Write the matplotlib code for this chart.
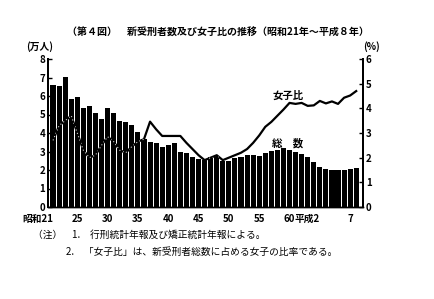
import matplotlib
matplotlib.use("Agg")
import matplotlib.pyplot as plt
from matplotlib.path import Path
import numpy as np

plt.rcParams['font.family'] = ['Noto Sans CJK JP', 'DejaVu Sans']

# 昭和21年(1946) ～ 平成8年(1996)
years = list(range(1946, 1997))
# 新受刑者総数（万人）
total = [6.60, 6.55, 7.05, 5.82, 5.96, 5.37, 5.46, 5.10, 4.74, 5.37,
         5.06, 4.66, 4.58, 4.43, 4.04, 3.66, 3.53, 3.44, 3.23, 3.35,
         3.44, 2.99, 2.90, 2.69, 2.58, 2.54, 2.69, 2.76, 2.50, 2.50,
         2.63, 2.69, 2.81, 2.81, 2.78, 2.94, 3.04, 3.10, 3.17, 3.10,
         2.98, 2.85, 2.68, 2.42, 2.18, 2.04, 2.00, 2.00, 2.00, 2.05,
         2.09]
# 女子比（%）
female_ratio = [2.70, 3.30, 3.50, 3.70, 3.00, 2.30, 2.00, 2.10, 2.50, 2.85,
                2.65, 2.30, 2.20, 2.45, 2.65, 2.75, 3.46, 3.15, 2.88, 2.88,
                2.88, 2.88, 2.60, 2.35, 2.10, 1.90, 2.00, 2.10, 1.90, 2.00,
                2.10, 2.20, 2.35, 2.60, 2.90, 3.25, 3.45, 3.70, 3.95, 4.22,
                4.18, 4.22, 4.10, 4.12, 4.30, 4.20, 4.28, 4.18, 4.43, 4.52,
                4.70]
tick_years = [1946, 1950, 1955, 1960, 1965, 1970, 1975, 1980, 1985, 1990, 1995]
tick_labels = ['昭和21', '25', '30', '35', '40', '45', '50', '55', '60', '平成2', '7']

title = '（第４図）　新受刑者数及び女子比の推移（昭和21年～平成８年）'
note1 = '（注）　1.　行刑統計年報及び矯正統計年報による。'
note2 = '2.　「女子比」は、新受刑者総数に占める女子の比率である。'

W, H = 435, 299
fig = plt.figure(figsize=(W / 100, H / 100), dpi=100)
ax = fig.add_axes([48 / W, (H - 207) / H, (363 - 48) / W, (207 - 59) / H])
ax2 = ax.twinx()

x = np.arange(len(years))
bars = ax.bar(x, total, width=0.84, color='black', edgecolor='none', zorder=2)
ax.set_xlim(-0.83, len(years) - 1 + 1.12)
ax.set_ylim(0, 8)
ax2.set_ylim(0, 6)

# female ratio line: black outside bars, faint white dotted inside bars
ax2.plot(x, female_ratio, color='black', lw=1.6, zorder=3)
wl, = ax2.plot(x, female_ratio, color='white', lw=0.8, ls=(0, (1, 2.2)),
               alpha=0.8, zorder=4)
paths = [p.get_path().transformed(p.get_patch_transform()) for p in bars]
clip = Path.make_compound_path(*paths)
wl.set_clip_path(clip, ax.transData)

# axes styling
for a in (ax, ax2):
    a.spines['top'].set_visible(False)
    a.spines['left'].set_linewidth(1.4)
    a.spines['right'].set_linewidth(1.4)
    a.spines['bottom'].set_linewidth(1.0)
ax.set_yticks(range(0, 9))
ax2.set_yticks(range(0, 7))
ax.tick_params(axis='y', direction='in', length=3, width=1, pad=2, labelsize=7)
ax2.tick_params(axis='y', direction='in', length=3, width=1, pad=2, labelsize=7)
for lab in ax.get_yticklabels() + ax2.get_yticklabels():
    lab.set_fontweight('bold')

tick_idx = [years.index(y) for y in tick_years]
ax.set_xticks(tick_idx)
ax.set_xticklabels(tick_labels, fontsize=7, fontweight='bold')
ax.set_xticks(x, minor=True)
ax.tick_params(axis='x', which='both', direction='in', length=3, width=0.8,
               color='white', pad=5)
for lab in ax.get_xticklabels():
    if lab.get_text() in ('昭和21', '平成2'):
        lab.set_ha('right')

# series labels
ax2.text(years.index(1985) - 0.2, 4.5, '女子比', fontsize=7.5, fontweight='bold',
         ha='center', va='center', zorder=5)
ax.text(years.index(1985) - 0.4, 3.45, '総　数', fontsize=7.5, fontweight='bold',
        ha='center', va='center', zorder=5)

# unit labels and title
fig.text(40 / W, 1 - 47 / H, '(万人)', fontsize=7, fontweight='bold',
         ha='center', va='center')
fig.text(372 / W, 1 - 47 / H, '(%)', fontsize=7, fontweight='bold',
         ha='center', va='center')
fig.text(218 / W, 1 - 33 / H, title, fontsize=7.2, fontweight='bold',
         ha='center', va='center')
fig.text(33 / W, 1 - 235 / H, note1, fontsize=7, ha='left', va='center')
fig.text(66 / W, 1 - 252 / H, note2, fontsize=7, ha='left', va='center')

fig.savefig('out.png', dpi=100)
